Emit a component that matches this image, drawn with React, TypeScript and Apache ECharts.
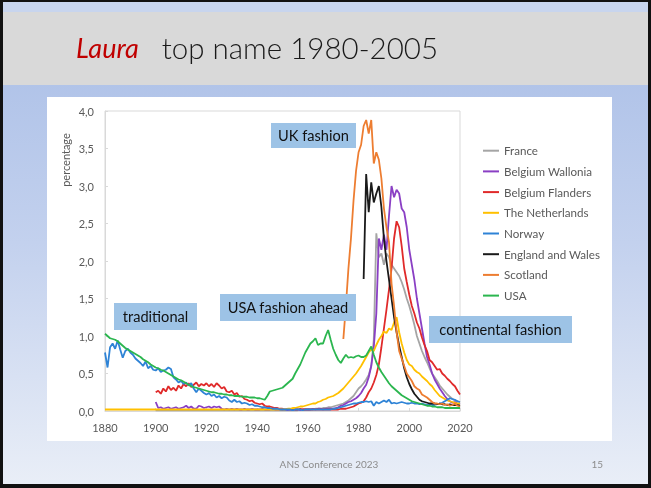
import React, { useEffect, useRef } from "react";
import * as echarts from "echarts";

// ---- Data (percentage of girls named Laura, by year) ----
const seriesNames = [
  "France",
  "Belgium Wallonia",
  "Belgium Flanders",
  "The Netherlands",
  "Norway",
  "England and Wales",
  "Scotland",
  "USA",
];

const xTicks = [1880, 1900, 1920, 1940, 1960, 1980, 2000, 2020];

const franceStart = 1900;
const france = [
  0.01, 0.01, 0.01, 0.01, 0.01, 0.01, 0.01, 0.01, 0.01, 0.01,
  0.01, 0.01, 0.01, 0.01, 0.01, 0.01, 0.01, 0.01, 0.01, 0.01,
  0.01, 0.01, 0.01, 0.01, 0.01, 0.01, 0.01, 0.01, 0.01, 0.01,
  0.01, 0.01, 0.01, 0.01, 0.01, 0.01, 0.01, 0.01, 0.01, 0.01,
  0.01, 0.01, 0.01, 0.01, 0.01, 0.01, 0.01, 0.01, 0.01, 0.01,
  0.01, 0.01, 0.01, 0.01, 0.01, 0.01, 0.01, 0.02, 0.02, 0.02,
  0.02, 0.02, 0.02, 0.03, 0.03, 0.03, 0.04, 0.04, 0.05, 0.05,
  0.06, 0.07, 0.08, 0.09, 0.1, 0.12, 0.14, 0.17, 0.2, 0.25,
  0.3, 0.33, 0.37, 0.42, 0.48, 0.6, 0.95, 2.37, 2.05, 2.1,
  1.95, 2.1, 2.05, 1.95, 1.9, 1.85, 1.8, 1.72, 1.62, 1.5,
  1.4, 1.28, 1.15, 1.0, 0.9, 0.8, 0.72, 0.65, 0.57, 0.5,
  0.45, 0.4, 0.34, 0.3, 0.26, 0.22, 0.19, 0.16, 0.14, 0.13,
  0.12,
];

const walloniaStart = 1900;
const wallonia = [
  0.12, 0.04, 0.05, 0.03, 0.04, 0.05, 0.03, 0.04, 0.05, 0.03,
  0.04, 0.05, 0.07, 0.04, 0.06, 0.03, 0.03, 0.07, 0.06, 0.04,
  0.05, 0.06, 0.04, 0.06, 0.05, 0.06, 0.03, 0.02, 0.03, 0.02,
  0.03, 0.02, 0.03, 0.02, 0.02, 0.03, 0.02, 0.02, 0.03, 0.02,
  0.02, 0.02, 0.03, 0.02, 0.02, 0.02, 0.03, 0.02, 0.02, 0.02,
  0.01, 0.02, 0.01, 0.02, 0.01, 0.02, 0.02, 0.01, 0.02, 0.02,
  0.02, 0.02, 0.03, 0.02, 0.03, 0.03, 0.02, 0.03, 0.03, 0.03,
  0.03, 0.04, 0.05, 0.07, 0.08, 0.1, 0.12, 0.13, 0.15, 0.17,
  0.2, 0.24, 0.3, 0.35, 0.45, 0.6, 0.85, 1.3, 2.3, 2.15,
  2.35, 2.15, 2.6, 3.0, 2.85, 2.95, 2.9, 2.7, 2.65, 2.45,
  2.15, 1.95, 1.75, 1.5, 1.3, 1.1, 0.9, 0.72, 0.62, 0.5,
  0.42, 0.36, 0.3, 0.25, 0.2, 0.16, 0.13, 0.11, 0.12, 0.1,
  0.09,
];

const flandersStart = 1900;
const flanders = [
  0.25, 0.27, 0.23, 0.3, 0.26, 0.33, 0.28, 0.31, 0.27, 0.34,
  0.3, 0.36, 0.33, 0.37, 0.32, 0.35, 0.38, 0.33, 0.36, 0.34,
  0.37, 0.33, 0.36, 0.32, 0.37, 0.34, 0.3, 0.32, 0.26, 0.25,
  0.27, 0.22, 0.24, 0.19, 0.2, 0.16, 0.15, 0.13, 0.14, 0.11,
  0.1, 0.09, 0.1, 0.07, 0.06, 0.06, 0.05, 0.04, 0.04, 0.03,
  0.03, 0.02, 0.03, 0.02, 0.03, 0.02, 0.02, 0.03, 0.02, 0.02,
  0.02, 0.02, 0.02, 0.02, 0.02, 0.02, 0.02, 0.02, 0.02, 0.02,
  0.02, 0.02, 0.02, 0.03, 0.03, 0.03, 0.04, 0.05, 0.06, 0.08,
  0.1, 0.11, 0.13, 0.18, 0.25, 0.3, 0.38, 0.48, 0.62, 0.85,
  1.1, 1.35, 1.62, 1.9, 2.3, 2.53, 2.45, 2.2, 1.9, 1.72,
  1.55, 1.4, 1.3, 1.18, 1.1, 0.98, 0.88, 0.8, 0.68, 0.65,
  0.6, 0.55, 0.56, 0.5, 0.47, 0.43, 0.4, 0.36, 0.33, 0.27,
  0.22,
];

const netherlandsStart = 1880;
const netherlands = [
  0.02, 0.02, 0.02, 0.02, 0.02, 0.02, 0.02, 0.02, 0.02, 0.02,
  0.02, 0.02, 0.02, 0.02, 0.02, 0.02, 0.02, 0.02, 0.02, 0.02,
  0.02, 0.02, 0.02, 0.02, 0.02, 0.02, 0.02, 0.02, 0.02, 0.02,
  0.02, 0.02, 0.02, 0.02, 0.02, 0.02, 0.02, 0.02, 0.02, 0.02,
  0.02, 0.02, 0.02, 0.02, 0.02, 0.02, 0.02, 0.02, 0.02, 0.02,
  0.02, 0.02, 0.02, 0.02, 0.02, 0.02, 0.02, 0.02, 0.02, 0.02,
  0.02, 0.02, 0.02, 0.02, 0.02, 0.02, 0.02, 0.02, 0.02, 0.02,
  0.02, 0.02, 0.03, 0.03, 0.04, 0.04, 0.05, 0.06, 0.06, 0.07,
  0.08, 0.09, 0.1, 0.1, 0.12, 0.13, 0.15, 0.16, 0.18, 0.19,
  0.2, 0.22, 0.24, 0.27, 0.3, 0.34, 0.38, 0.42, 0.46, 0.5,
  0.55, 0.6, 0.66, 0.72, 0.78, 0.82, 0.8, 0.88, 0.95, 1.0,
  1.06, 1.04, 1.1, 1.08, 1.18, 1.25, 1.05, 0.9, 0.78, 0.68,
  0.62, 0.6, 0.55, 0.52, 0.5, 0.46, 0.43, 0.4, 0.36, 0.33,
  0.28, 0.24, 0.2, 0.18, 0.16, 0.14, 0.13, 0.12, 0.11, 0.1,
  0.1,
];

const norwayStart = 1880;
const norway = [
  0.78, 0.58, 0.85, 0.9, 0.83, 0.94, 0.82, 0.71, 0.8, 0.83,
  0.78, 0.75, 0.7, 0.67, 0.64, 0.6, 0.66, 0.57, 0.6, 0.55,
  0.54, 0.57, 0.52, 0.54, 0.55, 0.58, 0.56, 0.45, 0.42, 0.38,
  0.4, 0.36, 0.38, 0.34, 0.37, 0.3, 0.25, 0.3, 0.27, 0.24,
  0.22, 0.24, 0.2, 0.22, 0.18, 0.2, 0.17, 0.19, 0.18, 0.14,
  0.12, 0.15, 0.12, 0.13, 0.1, 0.11, 0.1, 0.08, 0.09, 0.07,
  0.07, 0.06, 0.05, 0.05, 0.04, 0.04, 0.03, 0.03, 0.03, 0.02,
  0.02, 0.02, 0.02, 0.02, 0.01, 0.02, 0.02, 0.02, 0.01, 0.02,
  0.02, 0.02, 0.02, 0.02, 0.02, 0.02, 0.02, 0.02, 0.02, 0.02,
  0.03, 0.03, 0.04, 0.05, 0.06, 0.07, 0.08, 0.09, 0.1, 0.1,
  0.11, 0.12, 0.12, 0.13, 0.12, 0.13, 0.07, 0.12, 0.1, 0.12,
  0.14, 0.12, 0.15, 0.1, 0.11, 0.1, 0.11, 0.12, 0.11, 0.1,
  0.1, 0.11, 0.1, 0.1, 0.09, 0.1, 0.09, 0.08, 0.09, 0.08,
  0.08, 0.09, 0.1, 0.11, 0.13, 0.15, 0.17, 0.16, 0.15, 0.13,
  0.12,
];

const englandStart = 1982;
const england = [
  1.76, 3.16, 2.65, 3.05, 2.78, 2.9, 3.0, 2.72,
  2.3, 2.0, 1.75, 1.5, 1.25, 1.05, 0.87, 0.72, 0.57, 0.45,
  0.36, 0.29, 0.23, 0.19, 0.15, 0.13, 0.12, 0.11, 0.1, 0.1,
  0.1, 0.09, 0.1, 0.09, 0.09, 0.08, 0.09, 0.08, 0.08, 0.08,
  0.07,
];

const scotlandStart = 1974;
const scotland = [
  0.96, 1.4, 1.9, 2.3, 2.8, 3.2,
  3.45, 3.55, 3.8, 3.88, 3.7, 3.88, 3.3, 3.45, 3.35, 3.1,
  2.7, 2.45, 2.25, 1.7, 1.4, 1.05, 0.8, 0.7, 0.6, 0.5,
  0.45, 0.4, 0.33, 0.3, 0.28, 0.22, 0.2, 0.18, 0.15, 0.12,
  0.1, 0.1, 0.09, 0.1, 0.08, 0.09, 0.07, 0.08, 0.1, 0.07,
  0.06,
];

const usaStart = 1880;
const usa = [
  1.03, 1.0, 0.97, 0.96, 0.95, 0.93, 0.9, 0.87, 0.84, 0.82,
  0.8, 0.78, 0.76, 0.74, 0.72, 0.69, 0.67, 0.65, 0.62, 0.6,
  0.58, 0.57, 0.55, 0.54, 0.52, 0.5, 0.48, 0.46, 0.44, 0.42,
  0.41, 0.39, 0.37, 0.35, 0.33, 0.32, 0.31, 0.3, 0.29, 0.28,
  0.27, 0.26, 0.25, 0.25, 0.24, 0.23, 0.23, 0.22, 0.22, 0.21,
  0.21, 0.2, 0.2, 0.2, 0.19, 0.19, 0.19, 0.18, 0.18, 0.18,
  0.17, 0.17, 0.16, 0.15, 0.2, 0.26, 0.27, 0.28, 0.29, 0.3,
  0.31, 0.34, 0.37, 0.4, 0.43, 0.5, 0.56, 0.62, 0.7, 0.78,
  0.84, 0.9, 0.93, 0.97, 0.88, 0.9, 0.9, 1.0, 1.08, 0.95,
  0.83, 0.75, 0.68, 0.64, 0.7, 0.75, 0.71, 0.72, 0.71, 0.73,
  0.74, 0.72, 0.72, 0.74, 0.8, 0.86, 0.75, 0.65, 0.58, 0.52,
  0.47, 0.42, 0.37, 0.33, 0.3, 0.27, 0.24, 0.21, 0.19, 0.17,
  0.15, 0.13, 0.12, 0.11, 0.1, 0.09, 0.08, 0.07, 0.07, 0.06,
  0.06, 0.05, 0.05, 0.05, 0.04, 0.04, 0.04, 0.04, 0.04, 0.04,
  0.04,
];

const seriesColors = [
  "#a5a5a5",
  "#8a3fc4",
  "#e02a2a",
  "#ffc000",
  "#2e83d6",
  "#1a1a1a",
  "#ed7d31",
  "#2bb64f",
];

const seriesData: [number, number[]][] = [
  [franceStart, france],
  [walloniaStart, wallonia],
  [flandersStart, flanders],
  [netherlandsStart, netherlands],
  [norwayStart, norway],
  [englandStart, england],
  [scotlandStart, scotland],
  [usaStart, usa],
];

const annotations = [
  { text: "UK fashion", x: 271, y: 123, w: 85, h: 25 },
  { text: "traditional", x: 114, y: 303, w: 83, h: 27 },
  { text: "USA fashion ahead", x: 220, y: 294, w: 136, h: 27 },
  { text: "continental fashion", x: 429, y: 316, w: 143, h: 27 },
];

const FONT = "Lato, 'Open Sans', sans-serif";

export default function App() {
  const ref = useRef<HTMLDivElement>(null);

  useEffect(() => {
    if (!ref.current) return;
    const chart = echarts.init(ref.current, undefined, { renderer: "svg" });

    const series = seriesData.map(([start, vals], i) => ({
      name: seriesNames[i],
      type: "line",
      data: vals.map((v, k) => [start + k, v]),
      showSymbol: false,
      symbol: "none",
      lineStyle: { width: 1.8, color: seriesColors[i] },
      itemStyle: { color: seriesColors[i] },
      z: 2 + i * 0.01,
    }));

    const bgElements: any[] = [
      { type: "rect", z: -100, shape: { x: 0, y: 0, width: 651, height: 488 }, style: { fill: "#111111" } },
      {
        type: "rect",
        z: -99,
        shape: { x: 3, y: 2, width: 645, height: 482 },
        style: {
          fill: new echarts.graphic.LinearGradient(0, 0, 0, 1, [
            { offset: 0, color: "#a8bde6" },
            { offset: 0.5, color: "#c3d1ee" },
            { offset: 1, color: "#e9eef7" },
          ]),
        },
      },
      { type: "rect", z: -98, shape: { x: 3, y: 2, width: 645, height: 10 }, style: { fill: "#c8d5ee" } },
      { type: "rect", z: -98, shape: { x: 3, y: 12, width: 645, height: 73 }, style: { fill: "#d9d9d9" } },
      { type: "rect", z: -97, shape: { x: 47, y: 97, width: 565, height: 344 }, style: { fill: "#ffffff" } },
      {
        type: "text",
        z: 50,
        x: 76,
        y: 47,
        style: {
          text: "{a|Laura}{b|  top name 1980-2005}",
          textVerticalAlign: "middle",
          rich: {
            a: { fontFamily: FONT, fontSize: 27, fontStyle: "italic", fill: "#c00000", padding: [0, 7, 0, 0] },
            b: { fontFamily: FONT, fontSize: 29.5, fontWeight: 300, fill: "#1a1a1a" },
          },
        },
      },
      {
        type: "text",
        z: 50,
        x: 329,
        y: 464,
        style: { text: "ANS Conference 2023", fontFamily: FONT, fontSize: 10, fill: "#8c8c8c", textAlign: "center", textVerticalAlign: "middle" },
      },
      {
        type: "text",
        z: 50,
        x: 603,
        y: 464,
        style: { text: "15", fontFamily: FONT, fontSize: 10, fill: "#8c8c8c", textAlign: "right", textVerticalAlign: "middle" },
      },
      {
        type: "text",
        z: 50,
        x: 65,
        y: 160,
        rotation: Math.PI / 2,
        style: { text: "percentage", fontFamily: FONT, fontSize: 11, fill: "#595959", textAlign: "center", textVerticalAlign: "middle" },
      },
    ];

    annotations.forEach((a) => {
      bgElements.push({
        type: "rect",
        z: 100,
        shape: { x: a.x, y: a.y, width: a.w, height: a.h },
        style: { fill: "#9dc3e6" },
      });
      bgElements.push({
        type: "text",
        z: 101,
        x: a.x + a.w / 2,
        y: a.y + a.h / 2,
        style: { text: a.text, fontFamily: FONT, fontSize: 14.6, fill: "#111111", textAlign: "center", textVerticalAlign: "middle" },
      });
    });

    chart.setOption({
      animation: false,
      textStyle: { fontFamily: FONT },
      graphic: { elements: bgElements },
      grid: {
        left: 105,
        top: 111,
        width: 355,
        height: 300,
        show: true,
        borderColor: "#d9d9d9",
        borderWidth: 1,
        backgroundColor: "transparent",
      },
      legend: {
        orient: "vertical",
        left: 483,
        top: 144,
        padding: 0,
        icon: "rect",
        itemWidth: 16,
        itemHeight: 2,
        itemGap: 7.3,
        data: seriesNames,
        textStyle: { color: "#595959", fontSize: 11.6, fontFamily: FONT, lineHeight: 13.4 },
      },
      xAxis: {
        type: "value",
        min: 1880,
        max: 2020,
        interval: 20,
        axisLine: { show: true, lineStyle: { color: "#d9d9d9" } },
        axisTick: { show: true, inside: true, length: 3, lineStyle: { color: "#d9d9d9" } },
        splitLine: { show: false },
        axisLabel: {
          color: "#595959",
          fontSize: 11,
          margin: 11,
          fontFamily: FONT,
          formatter: (v: number) => (xTicks.includes(v) ? String(v) : ""),
        },
      },
      yAxis: {
        type: "value",
        min: 0,
        max: 4,
        interval: 0.5,
        axisLine: { show: true, lineStyle: { color: "#d9d9d9" } },
        axisTick: { show: true, inside: true, length: 3, lineStyle: { color: "#d9d9d9" } },
        splitLine: { show: false },
        axisLabel: {
          color: "#595959",
          fontSize: 11,
          margin: 11,
          fontFamily: FONT,
          formatter: (v: number) => v.toFixed(1).replace(".", ","),
        },
      },
      series,
    });

    return () => chart.dispose();
  }, []);

  return (
    <div
      ref={ref}
      style={{ position: "fixed", left: 0, top: 0, width: 651, height: 488 }}
    />
  );
}
